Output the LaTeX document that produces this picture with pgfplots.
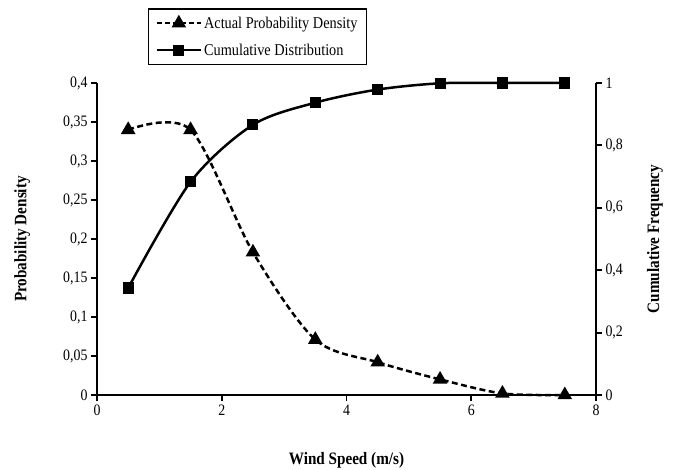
\documentclass[border=0pt]{standalone}
\usepackage{fontspec}
\setmainfont{Liberation Serif}[FakeStretch=0.87]
\usepackage{pgfplots}
\pgfplotsset{compat=1.18}

\pgfplotsset{
  common/.style={
    scale only axis,
    width=499bp, height=312bp,
    xmin=0, xmax=8,
    tick align=outside,
    major tick length=6bp,
    axis line style={line width=2.2pt},
    every tick/.style={line width=2pt, black},
    tick label style={font=\fontsize{16}{18}\selectfont},
    label style={font=\fontsize{17.5}{19}\selectfont\bfseries},
    /pgf/number format/assume math mode=true,
    /pgf/number format/use comma,
    /pgf/number format/fixed,
    clip=false,
  }
}

\begin{document}
\begin{tikzpicture}
\path[use as bounding box] (-97bp,-75bp) rectangle (579bp,395bp);

% density, left axis
\begin{axis}[
    common,
    axis x line*=bottom,
    axis y line*=left,
    ymin=0, ymax=0.4,
    xtick={0,2,4,6,8},
    ytick={0,0.05,0.1,0.15,0.2,0.25,0.3,0.35,0.4},
    xlabel={Wind Speed (m/s)},
    ylabel={Probability Density},
    xlabel style={at={(axis description cs:0.5,-0.208)}, anchor=center},
    ylabel style={at={(axis description cs:-0.150,0.5)}, anchor=center, rotate=0},
]
\addplot[black, line width=2.5pt, dash pattern=on 6pt off 3.5pt, smooth,
    mark=triangle*, mark size=6pt, mark options={solid}] coordinates {
(0.5,0.340) (1.5,0.340) (2.5,0.183) (3.5,0.071) (4.5,0.042) (5.5,0.020) (6.5,0.002) (7.5,0.000)
};
\end{axis}

% cumulative, right axis
\begin{axis}[
    common,
    axis x line=none,
    axis y line*=right,
    ymin=0, ymax=1,
    ytick={0,0.2,0.4,0.6,0.8,1},
    ylabel={Cumulative Frequency},
    ylabel style={at={(axis description cs:1.118,0.5)}, anchor=center, rotate=0},
    legend style={at={(rel axis cs:0.102,1.240)}, anchor=north west,
        draw=black, line width=1.4pt, font=\fontsize{16.5}{18}\selectfont,
        inner xsep=7bp, inner ysep=6bp, row sep=10bp,
        /tikz/every even column/.append style={column sep=1bp}},
    legend cell align=left,
    legend image code/.code={
        \draw[#1, line width=2.5pt] (0bp,0bp) -- (44bp,0bp);
        \draw[#1, line width=2.5pt, mark repeat=2, mark phase=2] plot coordinates {(0bp,0bp) (22bp,0bp) (44bp,0bp)};
    },
]
\addlegendimage{black, dash pattern=on 5pt off 3pt, mark=triangle*, mark size=6pt, mark options={solid}}
\addlegendentry{Actual Probability Density}
\addplot[black, line width=2.5pt, smooth, mark=square*, mark size=4.3pt] coordinates {
(0.5,0.343) (1.5,0.683) (2.5,0.866) (3.5,0.937) (4.5,0.979) (5.5,0.999) (6.5,1.000) (7.5,1.000)
};
\addlegendentry{Cumulative Distribution}
\end{axis}
\end{tikzpicture}
\end{document}
